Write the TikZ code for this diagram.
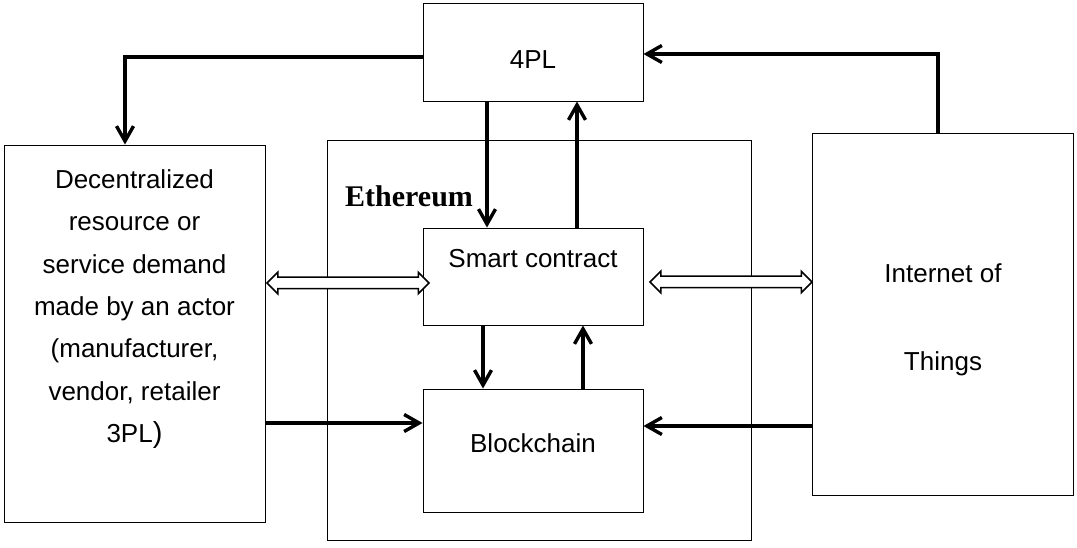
\documentclass[tikz,border=0pt]{standalone}
\usepackage{fontspec}
\setmainfont{Liberation Sans}
\newfontfamily\ethfont{Liberation Serif}
\usetikzlibrary{arrows.meta,shapes.arrows}
\begin{document}
\begin{tikzpicture}[x=1pt,y=-1pt,
  box/.style={draw, line width=0.9pt, inner sep=0pt},
  conn/.style={line width=3.4pt, -{Straight Barb[length=15pt,width=17pt,line width=3.4pt]}},
  lbl/.style={inner sep=0pt, font=\fontsize{26}{42.3}\selectfont, align=center},
  dblarrow/.style={double arrow, draw, line width=1.5pt, fill=white, inner xsep=0pt, inner ysep=5pt,
    minimum width=0pt, double arrow head extend=5pt, double arrow tip angle=90}
]
\useasboundingbox (0,0) rectangle (1077,548);

% boxes
\node[box, minimum width=220pt, minimum height=98pt] (p4) at (533,52) {};
\node[box, minimum width=261pt, minimum height=377pt] (left) at (134.5,333.5) {};
\node[box, minimum width=424pt, minimum height=400pt] (eth) at (539,340) {};
\node[box, minimum width=261pt, minimum height=362pt] (iot) at (942.5,314) {};
\node[box, fill=white, minimum width=220pt, minimum height=97pt] (sc) at (533,276.5) {};
\node[box, fill=white, minimum width=220pt, minimum height=123pt] (bc) at (533,450.5) {};

% texts
\node[lbl, anchor=base] (t4pl) at (533,69) {4PL};
\node[lbl, anchor=base] (tsc) at (533,268) {Smart contract};
\node[lbl, anchor=base] (tbc) at (533,452) {Blockchain};
\node[lbl, anchor=base] (tiot1) at (943,283) {Internet of};
\node[lbl, anchor=base] (tiot2) at (943,370) {Things};
\node[lbl, anchor=north] (tleft) at (134.5,169.5) {Decentralized\\resource or\\service demand\\made by an actor\\(manufacturer,\\vendor, retailer\\3PL{\fontsize{29}{42.3}\selectfont)}};
\node[inner sep=0pt, anchor=base west, font=\ethfont\bfseries\fontsize{30}{31}\selectfont] (teth) at (345,207) {Ethereum};

% helper coordinates
\coordinate (yA) at (0,423);
\coordinate (yB) at (0,426);

% connectors
\draw[conn] ([yshift=-5pt]p4.west) -| ([xshift=-9.5pt]left.north);
\draw[conn] ([xshift=-4.5pt]iot.north) |- ([yshift=-2pt]p4.east);
\draw[conn] ([xshift=-46pt]p4.south) -- ([xshift=-46pt]sc.north);
\draw[conn] ([xshift=44pt]sc.north) -- ([xshift=44pt]p4.south);
\draw[conn] ([xshift=-50pt]sc.south) -- ([xshift=-50pt]bc.north);
\draw[conn] ([xshift=50pt]bc.north) -- ([xshift=50pt]sc.south);
\draw[conn] (left.east |- yA) -- (bc.west |- yA);
\draw[conn] (iot.west |- yB) -- (bc.east |- yB);

% double arrows
\node[dblarrow, minimum height=162pt] (d1) at (348,283) {};
\node[dblarrow, minimum height=162pt] (d2) at (731,282) {};
\end{tikzpicture}
\end{document}
